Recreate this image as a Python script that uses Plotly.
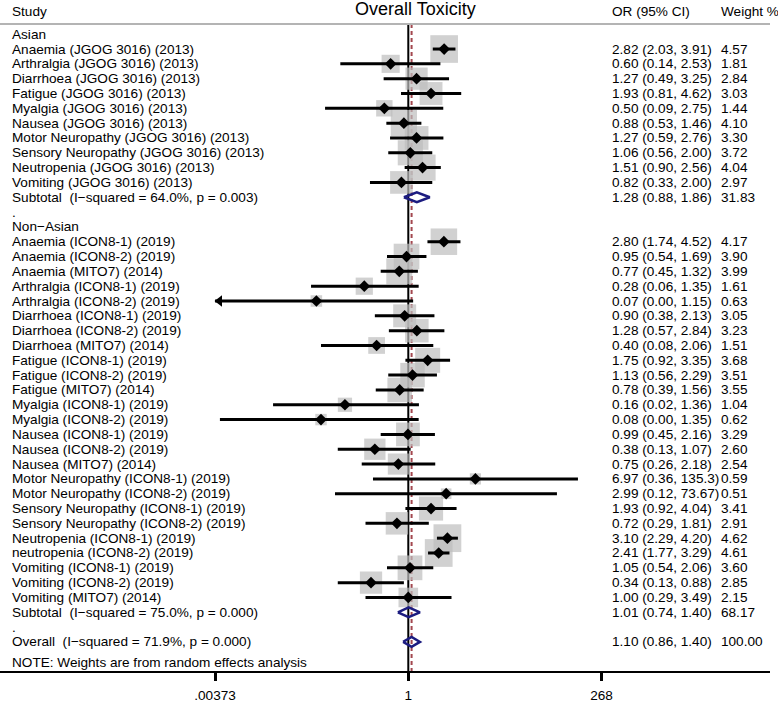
import math
import plotly.graph_objects as go

# ---------------- data ----------------
asian_labels = ["Anaemia (JGOG 3016) (2013)", "Arthralgia (JGOG 3016) (2013)",
                "Diarrhoea (JGOG 3016) (2013)", "Fatigue (JGOG 3016) (2013)",
                "Myalgia (JGOG 3016) (2013)", "Nausea (JGOG 3016) (2013)",
                "Motor Neuropathy (JGOG 3016) (2013)", "Sensory Neuropathy (JGOG 3016) (2013)",
                "Neutropenia (JGOG 3016) (2013)", "Vomiting (JGOG 3016) (2013)"]
asian_or = [2.82, 0.60, 1.27, 1.93, 0.50, 0.88, 1.27, 1.06, 1.51, 0.82]
asian_lo = [2.03, 0.14, 0.49, 0.81, 0.09, 0.53, 0.59, 0.56, 0.90, 0.33]
asian_hi = [3.91, 2.53, 3.25, 4.62, 2.75, 1.46, 2.76, 2.00, 2.56, 2.00]
asian_w = [4.57, 1.81, 2.84, 3.03, 1.44, 4.10, 3.30, 3.72, 4.04, 2.97]
asian_sub = (1.28, 0.88, 1.86, 31.83)
asian_het = "Subtotal\u00a0\u00a0(I\u2212squared = 64.0%, p = 0.003)"

nonasian_labels = ["Anaemia (ICON8-1) (2019)", "Anaemia (ICON8-2) (2019)", "Anaemia (MITO7) (2014)",
                   "Arthralgia (ICON8-1) (2019)", "Arthralgia (ICON8-2) (2019)",
                   "Diarrhoea (ICON8-1) (2019)", "Diarrhoea (ICON8-2) (2019)", "Diarrhoea (MITO7) (2014)",
                   "Fatigue (ICON8-1) (2019)", "Fatigue (ICON8-2) (2019)", "Fatigue (MITO7) (2014)",
                   "Myalgia (ICON8-1) (2019)", "Myalgia (ICON8-2) (2019)",
                   "Nausea (ICON8-1) (2019)", "Nausea (ICON8-2) (2019)", "Nausea (MITO7) (2014)",
                   "Motor Neuropathy (ICON8-1) (2019)", "Motor Neuropathy (ICON8-2) (2019)",
                   "Sensory Neuropathy (ICON8-1) (2019)", "Sensory Neuropathy (ICON8-2) (2019)",
                   "Neutropenia (ICON8-1) (2019)", "neutropenia (ICON8-2) (2019)",
                   "Vomiting (ICON8-1) (2019)", "Vomiting (ICON8-2) (2019)", "Vomiting (MITO7) (2014)"]
nonasian_or = [2.80, 0.95, 0.77, 0.28, 0.07, 0.90, 1.28, 0.40, 1.75, 1.13, 0.78, 0.16, 0.08,
               0.99, 0.38, 0.75, 6.97, 2.99, 1.93, 0.72, 3.10, 2.41, 1.05, 0.34, 1.00]
nonasian_lo = [1.74, 0.54, 0.45, 0.06, 0.003, 0.38, 0.57, 0.08, 0.92, 0.56, 0.39, 0.02, 0.0043,
               0.45, 0.13, 0.26, 0.36, 0.12, 0.92, 0.29, 2.29, 1.77, 0.54, 0.13, 0.29]
nonasian_hi = [4.52, 1.69, 1.32, 1.35, 1.15, 2.13, 2.84, 2.06, 3.35, 2.29, 1.56, 1.36, 1.35,
               2.16, 1.07, 2.18, 135.3, 73.67, 4.04, 1.81, 4.20, 3.29, 2.06, 0.88, 3.49]
nonasian_w = [4.17, 3.90, 3.99, 1.61, 0.63, 3.05, 3.23, 1.51, 3.68, 3.51, 3.55, 1.04, 0.62,
              3.29, 2.60, 2.54, 0.59, 0.51, 3.41, 2.91, 4.62, 4.61, 3.60, 2.85, 2.15]
nonasian_sub = (1.01, 0.74, 1.40, 68.17)
nonasian_het = "Subtotal\u00a0\u00a0(I\u2212squared = 75.0%, p = 0.000)"

overall = (1.10, 0.86, 1.40, 100.00)
overall_het = "Overall\u00a0\u00a0(I\u2212squared = 71.9%, p = 0.000)"

group_names = ["Asian", "Non\u2212Asian"]
tick_vals = [0.00373, 1, 268]
tick_text = [".00373", "1", "268"]
note_text = "NOTE: Weights are from random effects analysis"
title_text = "Overall Toxicity"

# ---------------- layout constants ----------------
W, H = 778, 703
PL, PR, PT, PB = 0, 770, 24, 677
X1PX, PXDEC = 408.3, 79.6
ROW0, ROWPX = 34.3, 14.96
NOTE_PX = 668
FONT = "Liberation Sans, Arial, sans-serif"
FS = 13.6
xrange_ = [(PL - X1PX) / PXDEC, (PR - X1PX) / PXDEC]
yrange_ = [(PB - ROW0) / ROWPX, (PT - ROW0) / ROWPX]
xmin = tick_vals[0]


def xp(px):
    return (px - PL) / (PR - PL)


def yp(px):
    return (PB - px) / (PB - PT)


def fmt(v):
    return f"{v:.2f}" if v < 100 else f"{v:.1f}"


# build rows
rows = []  # (kind, row, label, est, lo, hi, w)
r = 0
for gname, labs, ors, los, his, ws, sub, het in [
        (group_names[0], asian_labels, asian_or, asian_lo, asian_hi, asian_w, asian_sub, asian_het),
        (group_names[1], nonasian_labels, nonasian_or, nonasian_lo, nonasian_hi, nonasian_w, nonasian_sub, nonasian_het)]:
    rows.append(("header", r, gname, None, None, None, None)); r += 1
    for lab, e, lo, hi, w in zip(labs, ors, los, his, ws):
        rows.append(("study", r, lab, e, lo, hi, w)); r += 1
    rows.append(("sub", r, het, sub[0], sub[1], sub[2], sub[3])); r += 1
    rows.append(("dot", r, ".", None, None, None, None)); r += 1
rows.append(("sub", r, overall_het, overall[0], overall[1], overall[2], overall[3]))

fig = go.Figure()
ytop, ybot = yrange_[1], yrange_[0]

# null line and overall line
fig.add_trace(go.Scatter(x=[1, 1], y=[ytop, ybot], mode="lines",
                         line=dict(color="black", width=2), hoverinfo="skip"))
fig.add_trace(go.Scatter(x=[overall[0], overall[0]], y=[ytop, ybot], mode="lines",
                         line=dict(color="#a3474f", width=2, dash="4px,3px"), hoverinfo="skip"))

studies = [t for t in rows if t[0] == "study"]
# weight boxes
fig.add_trace(go.Scatter(x=[t[3] for t in studies], y=[t[1] for t in studies], mode="markers",
                         marker=dict(symbol="square", color="#bdbdbd",
                                     size=[12 * math.sqrt(t[6]) + 2 for t in studies],
                                     line=dict(width=0)), hoverinfo="skip"))
# CI lines
cx, cy = [], []
arrows_x, arrows_y = [], []
for t in studies:
    lo = max(t[4], xmin)
    cx += [lo, t[5], None]
    cy += [t[1], t[1], None]
    if t[4] < xmin:
        arrows_x.append(10 ** (math.log10(xmin) + 4.5 / PXDEC))
        arrows_y.append(t[1])
fig.add_trace(go.Scatter(x=cx, y=cy, mode="lines", line=dict(color="black", width=3),
                         hoverinfo="skip"))
fig.add_trace(go.Scatter(x=arrows_x, y=arrows_y, mode="markers",
                         marker=dict(symbol="triangle-left", color="black", size=10),
                         hoverinfo="skip"))
# point estimates
fig.add_trace(go.Scatter(x=[t[3] for t in studies], y=[t[1] for t in studies], mode="markers",
                         marker=dict(symbol="diamond", color="black", size=9), hoverinfo="skip"))
# pooled diamonds
for t in rows:
    if t[0] == "sub":
        e, lo, hi, rr = t[3], t[4], t[5], t[1]
        fig.add_trace(go.Scatter(x=[lo, e, hi, e, lo], y=[rr, rr - 0.33, rr, rr + 0.33, rr],
                                 mode="lines", line=dict(color="#1c1c80", width=2.5),
                                 hoverinfo="skip"))

ann = []


def txt(x, y, s, yref="y", size=FS, xanchor="left"):
    ann.append(dict(x=x, y=y, xref="paper", yref=yref, text=s, showarrow=False,
                    xanchor=xanchor, yanchor="middle",
                    font=dict(family=FONT, size=size, color="black")))


for t in rows:
    kind, rr, lab = t[0], t[1], t[2]
    txt(xp(10), rr, lab)
    if kind in ("study", "sub"):
        txt(xp(610), rr, f"{t[3]:.2f} ({fmt(t[4])}, {fmt(t[5])})")
        txt(xp(719), rr, f"{t[6]:.2f}")

txt(xp(10), (NOTE_PX - ROW0) / ROWPX, note_text)
txt(xp(10), yp(11), "Study", yref="paper")
txt(xp(610), yp(11), "OR (95% CI)", yref="paper")
txt(xp(719), yp(11), "Weight %", yref="paper")
txt(xp(X1PX + 7), yp(9), title_text, yref="paper", size=18, xanchor="center")

fig.update_layout(
    width=W, height=H, margin=dict(l=PL, r=W - PR, t=PT, b=H - PB, pad=0),
    paper_bgcolor="white", plot_bgcolor="white", showlegend=False,
    annotations=ann,
    shapes=[dict(type="line", xref="paper", yref="paper", x0=0, x1=1, y0=1, y1=1,
                 line=dict(color="#b4b4b4", width=2))],
    xaxis=dict(type="log", range=xrange_, tickvals=tick_vals, ticktext=tick_text,
               showgrid=False, zeroline=False, showline=True, linecolor="black", linewidth=2,
               ticks="outside", ticklen=8, tickwidth=2.5, tickcolor="black",
               ticklabelstandoff=3,
               tickfont=dict(family=FONT, size=FS, color="black")),
    yaxis=dict(range=yrange_, visible=False, showgrid=False, zeroline=False),
)

fig.write_html("out.html", config={"displayModeBar": False},
               post_script="document.body.style.margin='0';document.body.style.overflow='hidden';")
